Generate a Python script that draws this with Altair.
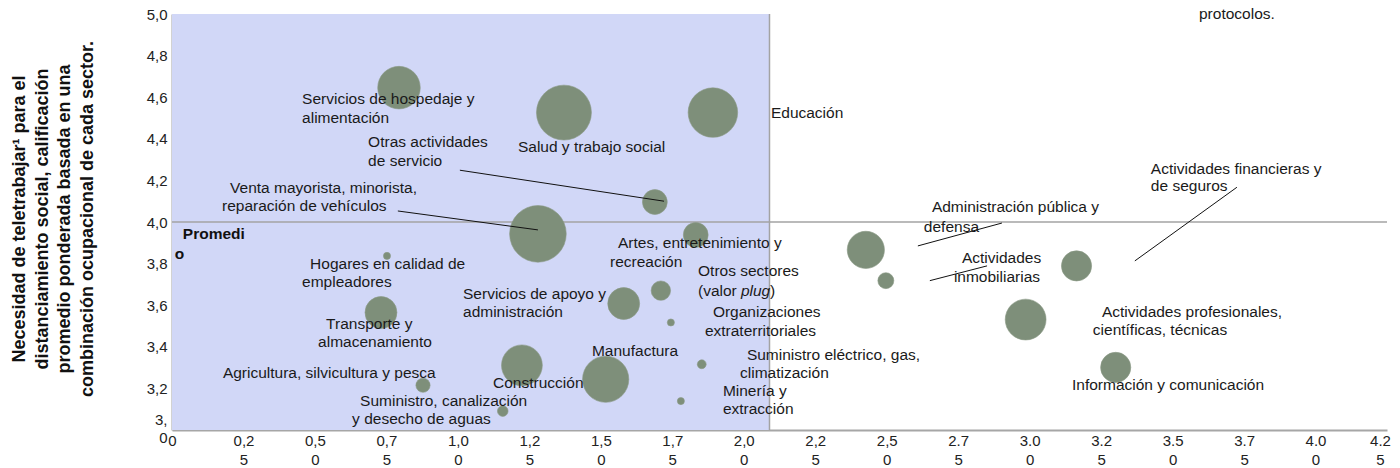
import altair as alt
import pandas as pd

FONT = "Liberation Sans"

# ---------------- data ----------------
sectores = [
    "Servicios de hospedaje y alimentación", "Salud y trabajo social", "Educación",
    "Otras actividades de servicio", "Venta mayorista, minorista, reparación de vehículos",
    "Artes, entretenimiento y recreación", "Hogares en calidad de empleadores",
    "Transporte y almacenamiento", "Servicios de apoyo y administración",
    "Otros sectores (valor plug)", "Organizaciones extraterritoriales", "Construcción",
    "Manufactura", "Agricultura, silvicultura y pesca",
    "Suministro, canalización y desecho de aguas", "Suministro eléctrico, gas, climatización",
    "Minería y extracción", "Administración pública y defensa", "Actividades inmobiliarias",
    "Actividades profesionales, científicas, técnicas", "Actividades financieras y de seguros",
    "Información y comunicación",
]
eje_x = [0.794, 1.371, 1.892, 1.689, 1.280, 1.832, 0.752, 0.731, 1.580, 1.710, 1.745,
         1.224, 1.517, 0.878, 1.157, 1.853, 1.780, 2.427, 2.497, 2.986, 3.164, 3.301]
necesidad = [4.646, 4.526, 4.526, 4.096, 3.943, 3.938, 3.837, 3.565, 3.608, 3.670, 3.517,
             3.311, 3.244, 3.215, 3.091, 3.316, 3.139, 3.866, 3.718, 3.531, 3.789, 3.301]
peso = [57.6, 96, 78, 19.6, 102, 19.6, 1.6, 32.4, 32.4, 12, 1.6,
        53, 68, 6.4, 3.6, 2.5, 1.6, 44, 8.1, 53, 29, 29]

promedio_x = 2.09
promedio_y = 4.0

x_ticks = [0, 0.25, 0.5, 0.75, 1.0, 1.25, 1.5, 1.75, 2.0, 2.25, 2.5, 2.75, 3.0, 3.25,
           3.5, 3.75, 4.0, 4.25]
x_tick_labels = [["0"], ["0,2", "5"], ["0,5", "0"], ["0,7", "5"], ["1,0", "0"],
                 ["1,2", "5"], ["1,5", "0"], ["1,7", "5"], ["2,0", "0"], ["2,2", "5"],
                 ["2,5", "0"], ["2.7", "5"], ["3.0", "0"], ["3.2", "5"], ["3.5", "0"],
                 ["3.7", "5"], ["4.0", "0"], ["4.2", "5"]]
y_ticks = [3.0, 3.2, 3.4, 3.6, 3.8, 4.0, 4.2, 4.4, 4.6, 4.8, 5.0]
y_tick_labels = [["3,", "0"], ["3,2"], ["3,4"], ["3,6"], ["3,8"], ["4,0"], ["4,2"],
                 ["4,4"], ["4,6"], ["4,8"], ["5,0"]]

etiquetas = [
    "Servicios de hospedaje y", "alimentación", "Otras actividades", "de servicio",
    "Salud y trabajo social", "Educación", "Venta mayorista, minorista,",
    "reparación de vehículos", "Hogares en calidad de", "empleadores", "Transporte y",
    "almacenamiento", "Servicios de apoyo y", "administración",
    "Agricultura, silvicultura y pesca", "Construcción", "Suministro, canalización",
    "y desecho de aguas", "Manufactura", "Artes, entretenimiento y", "recreación",
    "Otros sectores", "(valor ", ")", "Organizaciones", "extraterritoriales",
    "Suministro eléctrico, gas,", "climatización", "Minería y", "extracción",
    "Administración pública y", "defensa", "Actividades", "inmobiliarias",
    "Actividades financieras y", "de seguros", "Actividades profesionales,",
    "científicas, técnicas", "Información y comunicación",
]
etiqueta_x = [0.455, 0.455, 0.686, 0.686, 1.210, 2.095, 0.203, 0.175, 0.483, 0.455,
              0.539, 0.511, 1.018, 1.018, 0.178, 1.123, 0.658, 0.630, 1.469, 1.560,
              1.532, 1.840, 1.840, 2.092, 1.892, 1.864, 2.011, 1.987, 1.927, 1.927,
              2.658, 2.630, 2.763, 2.735, 3.424, 3.424, 3.253, 3.221, 3.148]
etiqueta_y = [4.589, 4.498, 4.383, 4.292, 4.359, 4.522, 4.163, 4.077, 3.799, 3.713,
              3.512, 3.421, 3.656, 3.569, 3.273, 3.225, 3.139, 3.053, 3.378, 3.900,
              3.809, 3.766, 3.670, 3.670, 3.569, 3.474, 3.359, 3.273, 3.187, 3.100,
              4.072, 3.976, 3.828, 3.737, 4.254, 4.172, 3.569, 3.483, 3.215]

cursiva = ["plug"]
cursiva_x = [1.990]
cursiva_y = [3.670]

negrita = ["Promedi", "o"]
negrita_x = [0.038, 0.010]
negrita_y = [3.943, 3.847]

# leader lines
guia_x1 = [1.007, 0.790, 2.609, 2.651, 3.368]
guia_y1 = [4.249, 4.053, 3.885, 3.718, 3.813]
guia_x2 = [1.721, 1.280, 2.903, 2.851, 3.725]
guia_y2 = [4.100, 3.962, 3.995, 3.789, 4.167]

titulo_y = ("Necesidad de teletrabajar¹ para el\n"
            "distanciamiento social, calificación\n"
            "promedio ponderada basada en una\n"
            "combinación ocupacional de cada sector.")

# ---------------- chart ----------------
def js_arr(lst):
    return "[" + ",".join("[" + ",".join("'" + s + "'" for s in item) + "]" for item in lst) + "]"

xs = alt.Scale(domain=[0, 4.25], nice=False, zero=False)
ys = alt.Scale(domain=[3.0, 5.0], nice=False, zero=False)

X_AXIS = alt.Axis(values=x_ticks, labelExpr=js_arr(x_tick_labels) + "[round(datum.value*4)]",
                  title=None, grid=False, ticks=False, labelPadding=3, labelLineHeight=19,
                  labelFlush=False, labelOverlap=False,
                  labelOffset={"condition": {"test": "datum.value > 4.2", "value": -7},
                               "value": 0})
Y_AXIS = alt.Axis(values=y_ticks, labelExpr=js_arr(y_tick_labels) + "[round((datum.value-3)*5)]",
                  title=None, grid=False, ticks=False, labelPadding=5, labelLineHeight=18,
                  labelFlush=False, labelOverlap=False,
                  labelOffset={"condition": {"test": "datum.value < 3.1", "value": -11},
                               "value": 0})

def X(f):
    return alt.X(f, type="quantitative", scale=xs, axis=X_AXIS)

def Y(f):
    return alt.Y(f, type="quantitative", scale=ys, axis=Y_AXIS)

shade_df = pd.DataFrame({"x0": [0.0], "x1": [promedio_x], "y0": [3.0], "y1": [5.0]})
shade = alt.Chart(shade_df).mark_rect(color="#d1d7f7").encode(
    x=X("x0"), x2="x1", y=Y("y0"), y2="y1")

hline_df = pd.DataFrame({"x0": [0.0], "x1": [4.25], "y": [promedio_y]})
hline = alt.Chart(hline_df).mark_rule(color="#a3a3a3", strokeWidth=1.5).encode(
    x=X("x0"), x2="x1", y=Y("y"))
vline_df = pd.DataFrame({"x": [promedio_x], "y0": [3.0], "y1": [5.0]})
vline = alt.Chart(vline_df).mark_rule(color="#a3a3a3", strokeWidth=1.5).encode(
    x=X("x"), y=Y("y0"), y2="y1")

bub_df = pd.DataFrame({"sector": sectores, "x": eje_x, "y": necesidad, "peso": peso})
bubbles = alt.Chart(bub_df).mark_circle(color="#7e8f7a", opacity=1, stroke="#8a9a86",
                                        strokeWidth=1, strokeOpacity=0.6).encode(
    x=X("x"), y=Y("y"),
    size=alt.Size("peso:Q", scale=alt.Scale(domain=[0, 100], range=[0, 3142]), legend=None))

guia_df = pd.DataFrame({"x1": guia_x1, "y1": guia_y1, "x2": guia_x2, "y2": guia_y2})
guias = alt.Chart(guia_df).mark_rule(color="#111111", strokeWidth=1).encode(
    x=X("x1"), y=Y("y1"), x2="x2", y2="y2")

LAB = 15.5
lab_df = pd.DataFrame({"t": etiquetas, "x": etiqueta_x, "y": etiqueta_y})
labels = alt.Chart(lab_df).mark_text(align="left", baseline="middle", font=FONT,
                                     fontSize=LAB, color="#1a1a1a").encode(
    x=X("x"), y=Y("y"), text="t:N")

it_df = pd.DataFrame({"t": cursiva, "x": cursiva_x, "y": cursiva_y})
labels_it = alt.Chart(it_df).mark_text(align="left", baseline="middle", font=FONT,
                                       fontSize=LAB, fontStyle="italic", color="#1a1a1a").encode(
    x=X("x"), y=Y("y"), text="t:N")

b_df = pd.DataFrame({"t": negrita, "x": negrita_x, "y": negrita_y})
labels_b = alt.Chart(b_df).mark_text(align="left", baseline="middle", font=FONT,
                                     fontSize=LAB, fontWeight="bold", color="#111111").encode(
    x=X("x"), y=Y("y"), text="t:N")

tit_df = pd.DataFrame({"t": [titulo_y]})
ytitle = alt.Chart(tit_df).mark_text(angle=270, align="center", baseline="middle",
                                     font=FONT, fontSize=18, fontWeight="bold",
                                     color="#111111", lineBreak="\n", lineHeight=22.5).encode(
    x=alt.value(-152), y=alt.value(205), text="t:N")

leg_df = pd.DataFrame({"t": ["protocolos."]})
leg_rect = alt.Chart(leg_df).mark_rect(color="#d1d7f7").encode(
    x=alt.value(992), x2=alt.value(1015), y=alt.value(-14), y2=alt.value(-9))
leg_text = alt.Chart(leg_df).mark_text(align="left", baseline="middle", font=FONT,
                                       fontSize=LAB, color="#1a1a1a").encode(
    x=alt.value(1027), y=alt.value(0), text="t:N")

chart = alt.layer(shade, hline, vline, bubbles, guias, labels, labels_it, labels_b,
                  ytitle, leg_rect, leg_text).properties(
    width=1215, height=416,
    autosize=alt.AutoSizeParams(type="none"),
    padding={"left": 164, "top": 6, "right": 5, "bottom": 38},
).configure_view(stroke=None).configure_axis(
    labelFont=FONT, labelFontSize=15, labelColor="#222222",
    domainColor="#a6a6a6", domainWidth=2,
)

chart.save("out.html", embed_options={"renderer": "svg", "actions": False})
